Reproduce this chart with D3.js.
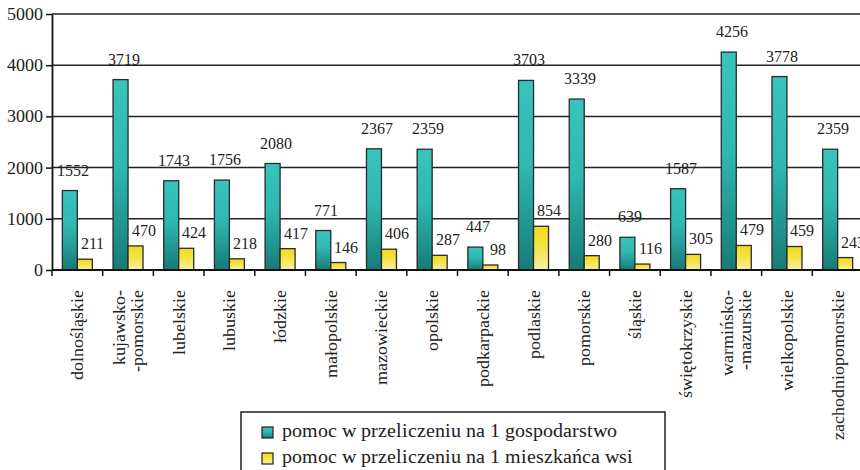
<!DOCTYPE html>
<html>
<head>
<meta charset="utf-8">
<script src="https://cdn.jsdelivr.net/npm/d3@7"></script>
<style>
  @font-face { font-family: 'ChartSerif'; src: local('Liberation Serif'), local('LiberationSerif-Regular'), local('Times New Roman'); }
</style>
</head>
<body style="margin:0">
<svg></svg>
<script>
// data
var regions = ['dolnośląskie', 'kujawsko-|-pomorskie', 'lubelskie', 'lubuskie', 'łódzkie',
  'małopolskie', 'mazowieckie', 'opolskie', 'podkarpackie', 'podlaskie', 'pomorskie',
  'śląskie', 'świętokrzyskie', 'warmińsko-|-mazurskie', 'wielkopolskie', 'zachodniopomorskie'];
var perFarm = [1552, 3719, 1743, 1756, 2080, 771, 2367, 2359, 447, 3703, 3339, 639, 1587, 4256, 3778, 2359];
var perVillager = [211, 470, 424, 218, 417, 146, 406, 287, 98, 854, 280, 116, 305, 479, 459, 243];
var yTicks = [0, 1000, 2000, 3000, 4000, 5000];
var seriesNames = ['pomoc w przeliczeniu na 1 gospodarstwo', 'pomoc w przeliczeniu na 1 mieszkańca wsi'];

var canvasWidth = 860;
var canvasHeight = 470;
var plot = { left: 52, right: 863, top: 14, bottom: 270 };
var face = "'ChartSerif', 'Liberation Serif', 'Times New Roman'";

var svg = d3.select('svg')
  .attr('width', canvasWidth)
  .attr('height', canvasHeight);

// gradients for the bars
var defs = svg.append('defs');
var tealGrad = defs.append('linearGradient').attr('id', 'teal')
  .attr('x1', 0).attr('y1', 0).attr('x2', 0).attr('y2', 1);
tealGrad.append('stop').attr('offset', '0%').attr('stop-color', '#38c3bc');
tealGrad.append('stop').attr('offset', '45%').attr('stop-color', '#2fb8b1');
tealGrad.append('stop').attr('offset', '100%').attr('stop-color', '#177b76');
var yellowGrad = defs.append('linearGradient').attr('id', 'yellow')
  .attr('x1', 0).attr('y1', 0).attr('x2', 0).attr('y2', 1);
yellowGrad.append('stop').attr('offset', '0%').attr('stop-color', '#f2da18');
yellowGrad.append('stop').attr('offset', '50%').attr('stop-color', '#f5e44a');
yellowGrad.append('stop').attr('offset', '100%').attr('stop-color', '#f8f0aa');

var fills = ['url(#teal)', 'url(#yellow)'];

var xScale = d3.scaleBand()
  .domain(regions)
  .range([plot.left, plot.right])
  .paddingInner(0)
  .paddingOuter(0);

var xSub = d3.scaleBand()
  .domain([0, 1])
  .range([0, xScale.bandwidth()])
  .paddingInner(0)
  .paddingOuter(0.69);

var yScale = d3.scaleLinear()
  .domain([0, 5000])
  .range([plot.bottom, plot.top]);

// gridlines
svg.append('g')
  .selectAll('line')
  .data(yTicks.slice(1))
  .enter()
  .append('line')
  .attr('x1', plot.left)
  .attr('x2', plot.right)
  .attr('y1', function(d) { return yScale(d); })
  .attr('y2', function(d) { return yScale(d); })
  .attr('stroke', '#222')
  .attr('stroke-width', 1.5);

// one flat list of bars
var cells = [];
regions.forEach(function(r, i) {
  cells.push({ region: r, s: 0, v: perFarm[i] });
  cells.push({ region: r, s: 1, v: perVillager[i] });
});
function barX(d) { return xScale(d.region) + xSub(d.s); }

svg.append('g')
  .selectAll('rect')
  .data(cells)
  .enter()
  .append('rect')
  .attr('x', barX)
  .attr('y', function(d) { return yScale(d.v); })
  .attr('width', xSub.bandwidth())
  .attr('height', function(d) { return yScale(0) - yScale(d.v); })
  .attr('fill', function(d) { return fills[d.s]; })
  .attr('stroke', '#2a2a2a')
  .attr('stroke-width', 1.3);

// value labels (the last one runs off the edge, as in the source)
svg.selectAll('text.val')
  .data(cells)
  .enter()
  .append('text')
  .attr('class', 'val')
  .attr('x', function(d) { return barX(d) + xSub.bandwidth() / 2 + (d.s == 0 ? 3 : 8); })
  .attr('y', function(d) { return yScale(d.v) - (d.s == 0 ? 15 : 10); })
  .attr('text-anchor', 'middle')
  .style('font-family', face)
  .style('font-size', '16px')
  .attr('fill', '#222')
  .text(function(d) { return d.v; });

// y axis line and ticks
var yAxis = svg.append('g')
  .attr('transform', 'translate(' + plot.left + ',0)')
  .call(d3.axisLeft(yScale).tickValues(yTicks).tickFormat('')
    .tickSize(6).tickSizeOuter(0));
yAxis.select('.domain').attr('stroke', '#111').attr('stroke-width', 1.8);
yAxis.selectAll('.tick line').attr('stroke', '#111').attr('stroke-width', 1.5);

svg.selectAll('text.ytick')
  .data(yTicks)
  .enter()
  .append('text')
  .attr('class', 'ytick')
  .attr('x', plot.left - 9)
  .attr('y', function(d) { return yScale(d) + 6; })
  .attr('text-anchor', 'end')
  .style('font-family', face)
  .style('font-size', '18px')
  .attr('fill', '#222')
  .text(function(d) { return d; });

// x axis line + ticks at category boundaries
svg.append('line')
  .attr('x1', plot.left)
  .attr('x2', plot.right)
  .attr('y1', yScale(0))
  .attr('y2', yScale(0))
  .attr('stroke', '#111')
  .attr('stroke-width', 1.8);

svg.append('g')
  .selectAll('line')
  .data(regions)
  .enter()
  .append('line')
  .attr('x1', function(d) { return xScale(d); })
  .attr('x2', function(d) { return xScale(d); })
  .attr('y1', yScale(0))
  .attr('y2', yScale(0) + 6)
  .attr('stroke', '#111')
  .attr('stroke-width', 1.5);

// category labels, rotated; one text per line
var labelLines = [];
regions.forEach(function(r) {
  var parts = r.split('|');
  parts.forEach(function(p, k) {
    labelLines.push({ region: r, text: p, shift: (k - (parts.length - 1) / 2) * 18 });
  });
});

svg.selectAll('text.cat')
  .data(labelLines)
  .enter()
  .append('text')
  .attr('class', 'cat')
  .attr('transform', function(d) {
    var cx = xScale(d.region) + xScale.bandwidth() / 2 + d.shift + 6;
    return 'translate(' + cx + ',290) rotate(-90)';
  })
  .attr('text-anchor', 'end')
  .style('font-family', face)
  .style('font-size', '18px')
  .attr('fill', '#222')
  .text(function(d) { return d.text; });

// legend
svg.append('rect')
  .attr('x', 241)
  .attr('y', 412)
  .attr('width', 424)
  .attr('height', 80)
  .attr('fill', '#fff')
  .attr('stroke', '#222')
  .attr('stroke-width', 1.5);

svg.selectAll('rect.key')
  .data(seriesNames)
  .enter()
  .append('rect')
  .attr('class', 'key')
  .attr('x', 262)
  .attr('y', function(d, i) { return 427 + i * 26; })
  .attr('width', 11)
  .attr('height', 11)
  .attr('fill', function(d, i) { return fills[i]; })
  .attr('stroke', '#222')
  .attr('stroke-width', 1.2);

svg.selectAll('text.key')
  .data(seriesNames)
  .enter()
  .append('text')
  .attr('class', 'key')
  .attr('x', 282)
  .attr('y', function(d, i) { return 437 + i * 26; })
  .style('font-family', face)
  .style('font-size', '20px')
  .attr('fill', '#222')
  .text(function(d) { return d; });
</script>
</body>
</html>
